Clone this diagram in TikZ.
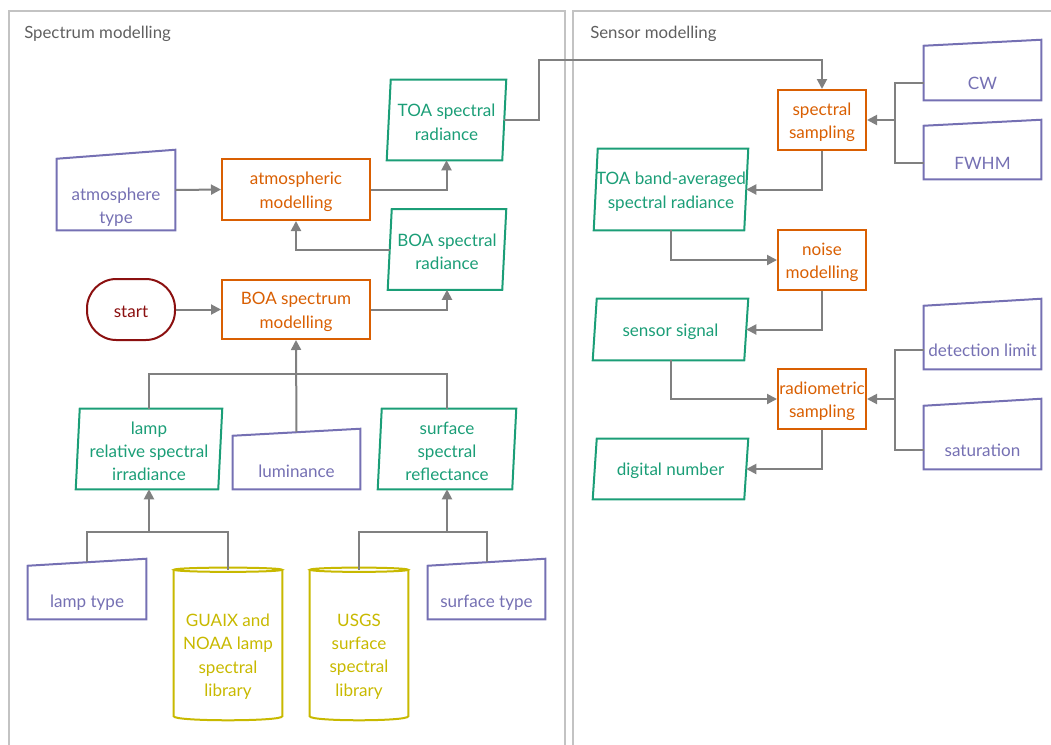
\documentclass[tikz,border=0pt]{standalone}
\usepackage{fontspec}
\setmainfont{Lato}
\usetikzlibrary{arrows.meta}
\definecolor{cor}{HTML}{D95F02}
\definecolor{cgreen}{HTML}{1B9E77}
\definecolor{cpurple}{HTML}{7570B3}
\definecolor{cyel}{HTML}{C8B900}
\definecolor{cred}{HTML}{8B1010}
\definecolor{cgray}{HTML}{808080}
\definecolor{cpanel}{HTML}{C3C3C3}
\definecolor{ctitle}{HTML}{606060}
\newcommand\up{\rule{0pt}{12.8pt}}
\newcommand\parafig[1]{\draw[datab] ([xshift=1.5pt]#1.north west) -- ([xshift=1.5pt]#1.north east) -- ([xshift=-1.5pt]#1.south east) -- ([xshift=-1.5pt]#1.south west) -- cycle;}
\newcommand\maninfig[2]{\draw[manb] (#1.south west) -- ([yshift=-#2]#1.north west) -- (#1.north east) -- (#1.south east) -- cycle;}
\newcommand\cylfig[2]{\draw[cylb] (#1.north west) -- (#1.south west) .. controls ([yshift=-4pt]#1.south west) and ([yshift=-4pt]#1.south east) .. (#1.south east) -- (#1.north east);
  \draw[cylb] (#1.north) ellipse [x radius=#2, y radius=1.6pt];}
\begin{document}
\begin{tikzpicture}[x=0.75pt,y=-0.75pt,
 base/.style={inner sep=0pt, align=center, font=\fontsize{12.8}{17.4}\selectfont},
 proc/.style={base, draw=cor, text=cor, line width=1.5pt, minimum width=111pt, minimum height=45pt},
 procs/.style={proc, minimum width=66pt},
 data/.style={base, text=cgreen, minimum height=60pt},
 datab/.style={draw=cgreen, line width=1.5pt},
 manin/.style={base, minimum width=87.75pt, minimum height=45pt},
 manb/.style={draw=cpurple, line width=1.5pt},
 mantext/.style={base, text=cpurple},
 cyl/.style={base, minimum height=109.5pt},
 cylb/.style={draw=cyel, line width=1.5pt},
 cyltext/.style={base, text=cyel},
 startn/.style={base, draw=cred, text=cred, line width=1.5pt, rounded corners=22pt, minimum width=66pt, minimum height=45.75pt},
 conn/.style={draw=cgray, line width=1.5pt},
 arr/.style={conn, -{Triangle[length=7.5pt,width=7.5pt]}},
 panel/.style={draw=cpanel, line width=1.5pt},
 ttl/.style={font=\fontsize{12.6}{15}\selectfont, text=ctitle, anchor=west, inner sep=0pt}]
\useasboundingbox (0,0) rectangle (1051,744);
\clip (0,0) rectangle (1051,744);
% panels
\draw[panel] (9,11) rectangle (565,770);
\draw[panel] (573,11) rectangle (1070,770);
\node[ttl] (t1) at (24,34) {Spectrum modelling};
\node[ttl] (t2) at (590,34) {Sensor modelling};
% process boxes
\node[proc, minimum height=45.75pt] (atm) at (296,189.5) {\up atmospheric\\modelling};
\node[proc, minimum height=44.25pt] (boa) at (296,309.5) {\up BOA spectrum\\modelling};
\node[procs] (ss) at (822,120) {\up spectral\\sampling};
\node[procs] (nm) at (822,260) {\up noise\\modelling};
\node[procs] (rs) at (822,399) {\up radiometric\\sampling};
% start
\node[startn] (start) at (131,309.5) {\up start};
% data
\node[data, minimum width=86.25pt] (toa) at (446.5,120) {\up TOA spectral\\radiance};
\node[data, minimum width=85.5pt] (boas) at (447,249.5) {\up BOA spectral\\radiance};
\node[data, minimum width=106.5pt] (lri) at (149,449) {\up lamp\\relative spectral\\irradiance};
\node[data, minimum width=100.5pt] (ssr) at (447,449) {\up surface\\spectral\\reflectance};
\node[data, minimum width=112.5pt, minimum height=60.75pt] (tba) at (671,189.5) {\up TOA band-averaged\\spectral radiance};
\node[data, minimum width=113.25pt, minimum height=45.75pt] (sig) at (670.5,329.5) {\up sensor signal};
\node[data, minimum width=113.25pt, minimum height=45pt] (dn) at (670.5,469) {\up digital number};
\foreach \n in {toa,boas,lri,ssr,tba,sig,dn}{\parafig{\n}}
% manual inputs
\node[manin, minimum width=88.5pt, minimum height=60pt] (atmt) at (116,190) {};
\node[mantext, minimum width=88.5pt] (atmt-t) at ([yshift=17.6pt]atmt.south) {atmosphere\\type};
\maninfig{atmt}{6.75pt}
\node[manin, minimum width=95.25pt] (lum) at (296.5,459) {};
\node[mantext, minimum width=95.25pt] (lum-t) at ([yshift=13.5pt]lum.south) {luminance};
\maninfig{lum}{5.25pt}
\node[manin, minimum width=88.5pt] (lt) at (87,589) {};
\node[mantext, minimum width=88.5pt] (lt-t) at ([yshift=12.75pt]lt.south) {lamp type};
\maninfig{lt}{5.25pt}
\node[manin] (st) at (486.5,589) {};
\node[mantext, minimum width=87.75pt] (st-t) at ([yshift=12.75pt]st.south) {surface type};
\maninfig{st}{5.25pt}
\node[manin] (cw) at (982.5,70) {};
\node[mantext, minimum width=87.75pt] (cw-t) at ([yshift=13pt]cw.south) {CW};
\maninfig{cw}{4.5pt}
\node[manin, minimum height=44.25pt] (fwhm) at (982.5,149.5) {};
\node[mantext, minimum width=87.75pt] (fwhm-t) at ([yshift=12pt]fwhm.south) {FWHM};
\maninfig{fwhm}{4.5pt}
\node[manin, minimum height=52.5pt] (dl) at (982.5,334) {};
\node[mantext, minimum width=87.75pt] (dl-t) at ([yshift=14.5pt]dl.south) {detection limit};
\maninfig{dl}{5.25pt}
\node[manin, minimum height=52.5pt] (sat) at (982.5,434) {};
\node[mantext, minimum width=87.75pt] (sat-t) at ([yshift=14.5pt]sat.south) {saturation};
\maninfig{sat}{5.25pt}
% cylinders
\node[cyl, minimum width=81pt] (gl) at (228,643) {};
\node[cyltext] (gl-t) at ([yshift=-10.25pt]gl.center) {GUAIX and\\NOAA lamp\\spectral\\library};
\cylfig{gl}{40.5pt}
\node[cyl, minimum width=73.5pt] (usgs) at (359,643) {};
\node[cyltext] (usgs-t) at ([yshift=-10.25pt]usgs.center) {USGS\\surface\\spectral\\library};
\cylfig{usgs}{36.75pt}
% coordinates
\coordinate (k1) at (539,60);
\coordinate (j1) at (296,374);
\coordinate (j2) at (149,532);
\coordinate (j3) at (447,532);
\coordinate (j4) at (895,120);
\coordinate (j5) at (895,399);
% connectors
\draw[arr] (atmt.east) -- (atm.west);
\draw[arr] (atm.east) -| (toa.south);
\draw[arr] (toa.east) -| (k1) -| (ss.north);
\draw[arr] (boas.west) -| (atm.south);
\draw[arr] (start.east) -- (boa.west);
\draw[arr] (boa.east) -| (boas.south);
\draw[conn] (lri.north) |- (j1);
\draw[conn] (ssr.north) |- (j1);
\draw[arr] ([yshift=-2.625pt]lum.north) -- (boa.south);
\draw[conn] ([yshift=-2.625pt]lt.north) |- (j2);
\draw[conn] (gl.north) |- (j2);
\draw[arr] (j2) -- (lri.south);
\draw[conn] (usgs.north) |- (j3);
\draw[conn] ([yshift=-2.625pt]st.north) |- (j3);
\draw[arr] (j3) -- (ssr.south);
\draw[conn] (cw-t.west) -| (j4);
\draw[conn] (fwhm-t.west) -| (j4);
\draw[arr] (j4) -- (ss.east);
\draw[arr] (ss.south) |- (tba.east);
\draw[arr] (tba.south) |- (nm.west);
\draw[arr] (nm.south) |- (sig.east);
\draw[arr] (sig.south) |- (rs.west);
\draw[conn] (dl-t.west) -| (j5);
\draw[conn] (sat-t.west) -| (j5);
\draw[arr] (j5) -- (rs.east);
\draw[arr] (rs.south) |- (dn.east);
\end{tikzpicture}
\end{document}
